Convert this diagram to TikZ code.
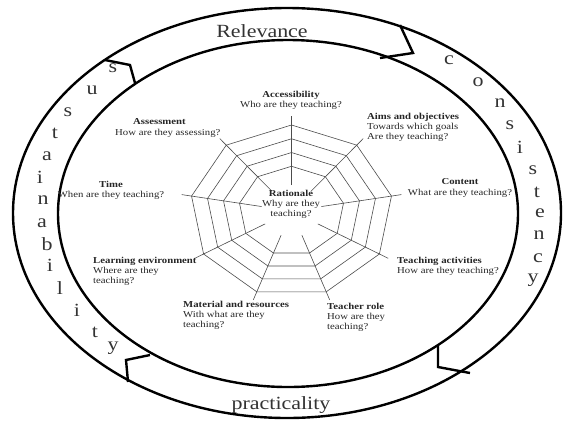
\documentclass[tikz,border=0pt]{standalone}
\usepackage{fontspec}
\setmainfont[FakeStretch=1.18]{Liberation Serif}
\begin{document}
\begin{tikzpicture}[x=1pt,y=-1pt,
  ring/.style={line width=2.4pt, line join=miter},
  web/.style={line width=0.6pt, draw=black!70},
  lab/.style={font=\fontsize{9.1}{10.4}\selectfont, text=black!85, inner sep=0pt},
  big/.style={font=\fontsize{18.6}{20}\selectfont, text=black!80, inner sep=0pt}]
\useasboundingbox (0,0) rectangle (567,421);
% rings
\draw[ring] (287,213) ellipse [x radius=274pt, y radius=205pt];
\draw[ring] (288,213.5) ellipse [x radius=230pt, y radius=173.5pt];
% chevron joints
\coordinate (tr1) at (400,25); \coordinate (tr2) at (413,53); \coordinate (tr3) at (380,58);
\coordinate (tl1) at (105,60); \coordinate (tl2) at (130,65); \coordinate (tl3) at (135,83);
\coordinate (bl1) at (150,355); \coordinate (bl2) at (126,360); \coordinate (bl3) at (128,382);
\coordinate (br1) at (438,345); \coordinate (br2) at (438,367); \coordinate (br3) at (470,373);
\draw[ring] (tr1) -- (tr2) -- (tr3);
\draw[ring] (tl1) -- (tl2) -- (tl3);
\draw[ring] (bl1) -- (bl2) -- (bl3);
\draw[ring] (br1) -- (br2) -- (br3);
% web
\foreach \f in {1,0.84,0.68,0.52}{
  \draw[web] ({291.5+101.5*\f*cos(90)},{211-86*\f*sin(90)})
    \foreach \a in {50,10,...,-230}{ -- ({291.5+101.5*\f*cos(\a)},{211-86*\f*sin(\a)}) } -- cycle;
}
\foreach \a in {90,50,...,-230}{
  \draw[web] ({291.5+101.5*0.3*cos(\a)},{211-86*0.3*sin(\a)}) -- ({291.5+101.5*1.1*cos(\a)},{211-86*1.1*sin(\a)});
}
% labels
\node[lab, anchor=north, align=center] (acc) at (291,90.5) {\textbf{Accessibility}\\Who are they teaching?};
\node[lab, anchor=north west, align=left] (aims) at (367,112.5) {\textbf{Aims and objectives}\\Towards which goals\\Are they teaching?};
\node[lab, anchor=north, align=center] (cont) at (460,178.5) {\textbf{Content}\\What are they teaching?};
\node[lab, anchor=north west, align=left] (tact) at (397,256.5) {\textbf{Teaching activities}\\How are they teaching?};
\node[lab, anchor=north west, align=left] (trole) at (327,302.5) {\textbf{Teacher role}\\How are they\\teaching?};
\node[lab, anchor=north west, align=left] (mat) at (183,300.5) {\textbf{Material and resources}\\With what are they\\teaching?};
\node[lab, anchor=north west, align=left] (lenv) at (93,256.5) {\textbf{Learning environment}\\Where are they\\teaching?};
\node[lab, anchor=north, align=center] (time) at (111,180.5) {\textbf{Time}\\When are they teaching?};
\node[lab, anchor=north west, align=left] (ass) at (115,118.5) {\hspace*{18pt}\textbf{Assessment}\\How are they assessing?};
\node[lab, anchor=north, align=center] (rat) at (291,189.5) {\textbf{Rationale}\\Why are they\\teaching?};
% ring words
\node[big, anchor=base] (rel) at (262,37.3) {Relevance};
\node[big, anchor=base] (prac) at (281,409) {practicality};
\foreach \ch/\x/\y [count=\i] in {s/113/68,u/92/90,s/68/112,t/55/133,a/47/156,i/40/177,n/43/200,a/42/223,b/47/244,i/50/265,l/60/288,i/77/310,t/95/332,y/113/348}{
  \node[big] (su\i) at (\x,\y) {\ch};
}
\foreach \ch/\x/\y [count=\i] in {c/449/60,o/478/82,n/500/103,s/510/125,i/520/147,s/533/170,t/537/192,e/540/213,n/539/235,c/538/258,y/533/280}{
  \node[big] (co\i) at (\x,\y) {\ch};
}
\end{tikzpicture}
\end{document}
